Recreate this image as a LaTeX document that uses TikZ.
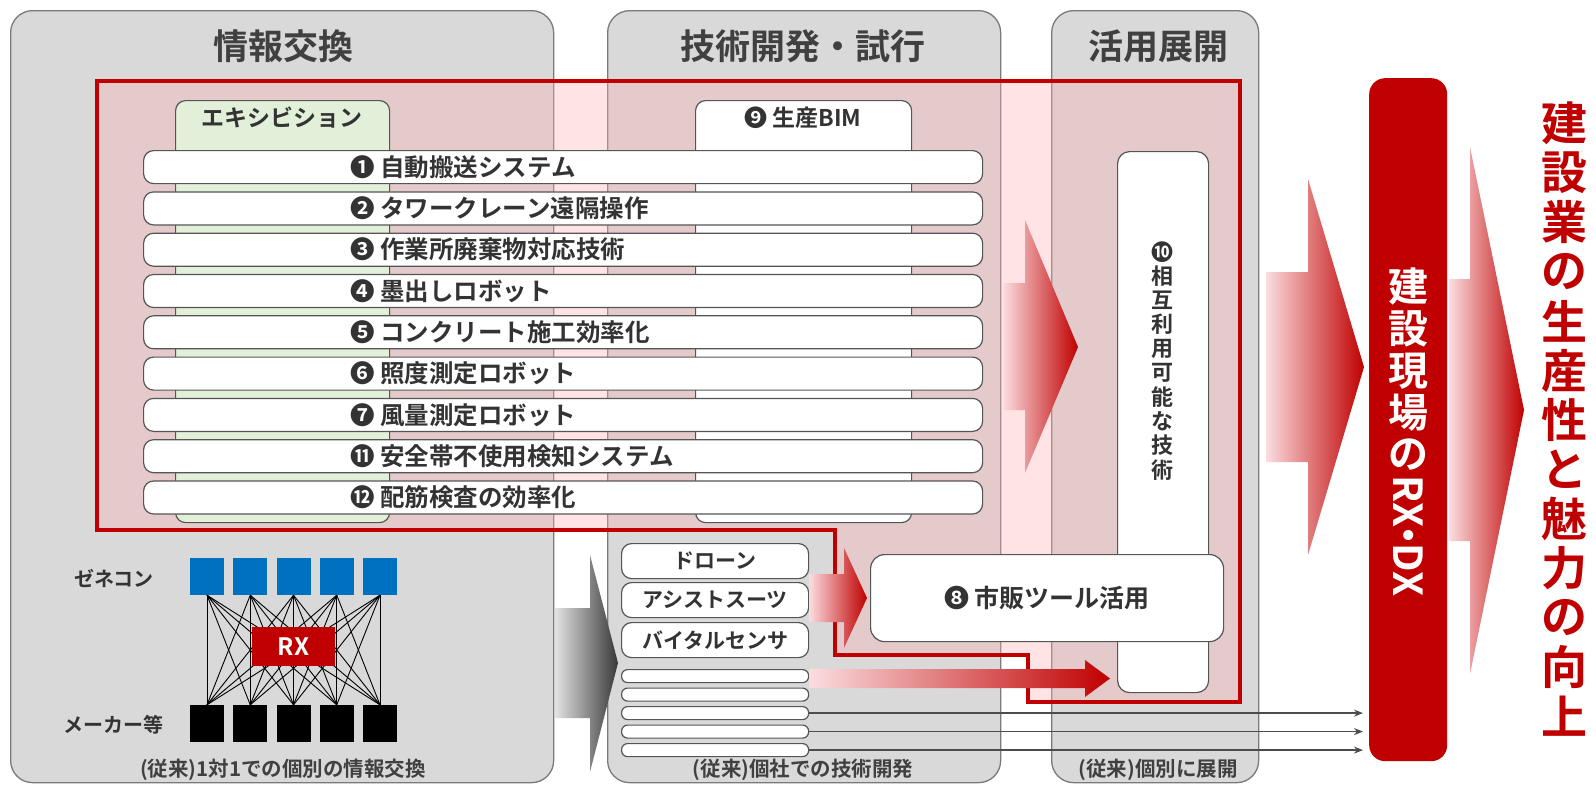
\documentclass[tikz,border=0pt]{standalone}
\usepackage{fontspec}
\setmainfont{Noto Sans CJK JP}[BoldFont={Noto Sans CJK JP Bold}]
\usetikzlibrary{arrows.meta}
\definecolor{pgrey}{HTML}{D9D9D9}
\definecolor{pborder}{HTML}{7A7A7A}
\definecolor{dred}{HTML}{C00000}
\definecolor{txt}{HTML}{333333}
\definecolor{ttl}{HTML}{404040}
\definecolor{gbox}{HTML}{E2F0D9}
\definecolor{blu}{HTML}{0070C0}
\definecolor{pinkf}{RGB}{255,175,181}
\definecolor{pk1}{HTML}{FBDDE0}
\newcommand\fsz[1]{\fontsize{#1}{#1}\selectfont}
\tikzset{
  panel/.style={draw=pborder, line width=1.3pt, fill=pgrey, rounded corners=22pt, anchor=north west, inner sep=0pt},
  wbox/.style={draw=pborder!70!black, line width=1.2pt, fill=white, rounded corners=10pt, anchor=north west, inner sep=0pt},
  ptitle/.style={font=\fsz{35}\bfseries, text=ttl, inner sep=0pt},
  bottomtxt/.style={font=\fsz{20.5}\bfseries, text=ttl, inner sep=0pt},
  bartext/.style={font=\fsz{24.5}\bfseries, text=txt, anchor=west, inner sep=0pt},
  smalltext/.style={font=\fsz{21}\bfseries, text=txt, inner sep=0pt},
  sq/.style={minimum width=34pt, minimum height=37pt, inner sep=0pt, draw=none},
  vchar/.style={font=\fsz{22}\bfseries, text=txt, inner sep=0pt},
  rxchar/.style={font=\fsz{40}\bfseries, text=white, inner sep=0pt},
  bigchar/.style={font=\fsz{46}\bfseries, text=dred, inner sep=0pt},
  thinarrow/.style={draw=black!70, line width=1.4pt, -{Stealth[length=9pt,width=7pt]}},
}
\begin{document}
\begin{tikzpicture}[x=1pt,y=-1pt]
\useasboundingbox (0,0) rectangle (1596,790);
\fill[white] (0,0) rectangle (1596,790);

% panels
\node[panel, minimum width=543pt, minimum height=772pt] (p1) at (10,10) {};
\node[panel, minimum width=393pt, minimum height=772pt] (p2) at (607,10) {};
\node[panel, minimum width=207pt, minimum height=772pt] (p3) at (1051,10) {};
\node[ptitle] (t1) at (283,46) {情報交換};
\node[ptitle] (t2) at (803,46) {技術開発・試行};
\node[ptitle] (t3) at (1158,46) {活用展開};
\node[bottomtxt] (b1) at (283,770) {(従来)1対1での個別の情報交換};
\node[bottomtxt] (b2) at (803,770) {(従来)個社での技術開発};
\node[bottomtxt] (b3) at (1158,770) {(従来)個別に展開};

% grey arrow
\shade[left color=gray!22, right color=black!78] (555,608) -- (590,608) -- (590,555) -- (618,663) -- (590,772) -- (590,718) -- (555,718) -- cycle;

% network
\foreach \i in {1,...,5} {
  \node[sq, fill=blu] (g\i) at ({207+43.25*(\i-1)}, 576.5) {};
  \node[sq, fill=black] (m\i) at ({207+43.25*(\i-1)}, 723.5) {};
}
\foreach \i in {1,...,5} \foreach \j in {1,...,5} \draw[line width=0.9pt] (g\i.south) -- (m\j.north);
\node[fill=dred, minimum width=83pt, minimum height=39pt, inner sep=0pt, text=white, font=\fsz{24}\bfseries] (rx) at (293.5,646.5) {RX};
\node[font=\fsz{20}\bfseries, text=txt, inner sep=0pt] (lg) at (114,578) {ゼネコン};
\node[font=\fsz{20}\bfseries, text=txt, inner sep=0pt] (lm) at (113,725) {メーカー等};

% red region
\fill[pinkf, fill opacity=0.34] (97,81) -- (1240,81) -- (1240,702) -- (1028,702) -- (1028,655) -- (835,655) -- (835,530) -- (97,530) -- cycle;
\draw[dred, line width=4pt, line join=miter] (97,81) -- (1240,81) -- (1240,702) -- (1028,702) -- (1028,655) -- (835,655) -- (835,530) -- (97,530) -- cycle;

% exhibition & BIM
\node[wbox, fill=gbox, minimum width=214pt, minimum height=422pt] (exh) at (175,100) {};
\node[smalltext, font=\fsz{23}\bfseries] (exht) at (282,118) {エキシビション};
\node[wbox, minimum width=216pt, minimum height=422pt] (bim) at (695,100) {};
\node[smalltext, font=\fsz{23}\bfseries] (bimt) at (803,118) {❾ 生産BIM};

% bars
\foreach \t [count=\i from 0] in {❶ 自動搬送システム,❷ タワークレーン遠隔操作,❸ 作業所廃棄物対応技術,❹ 墨出しロボット,❺ コンクリート施工効率化,❻ 照度測定ロボット,❼ 風量測定ロボット,⓫ 安全帯不使用検知システム,⓬ 配筋検査の効率化} {
  \node[wbox, minimum width=839pt, minimum height=33pt] (bar\i) at (143,{150+41.3*\i}) {};
  \node[bartext] (bt\i) at (350,{167+41.3*\i}) {\t};
}

% tall box 10
\node[wbox, rounded corners=12pt, minimum width=91pt, minimum height=541pt] (b10) at (1117,151) {};
\foreach \c [count=\i from 0] in {❿,相,互,利,用,可,能,な,技,術}
  \node[vchar] (v\i) at (1162,{252+24.2*\i}) {\c};

% box 8
\node[wbox, rounded corners=14pt, minimum width=353pt, minimum height=87pt] (b8) at (870,554) {};
\node[smalltext, font=\fsz{25}\bfseries] (b8t) at (1047,598) {❽ 市販ツール活用};

% small boxes
\node[wbox, minimum width=187pt, minimum height=35pt] (s1) at (621,543) {};
\node[smalltext] at (s1.center) {ドローン};
\node[wbox, minimum width=187pt, minimum height=35pt] (s2) at (621,582) {};
\node[smalltext] at (s2.center) {アシストスーツ};
\node[wbox, minimum width=187pt, minimum height=35pt] (s3) at (621,622) {};
\node[smalltext] at (s3.center) {バイタルセンサ};
\foreach \i in {1,...,5}
  \node[wbox, rounded corners=6pt, minimum width=187pt, minimum height=13pt] (tb\i) at (621,{669+18.5*(\i-1)}) {};

% pink arrows
\shade[left color=pk1, right color=dred] (1003,283) -- (1025,283) -- (1025,220) -- (1078,347) -- (1025,473) -- (1025,410) -- (1003,410) -- cycle;
\shade[left color=pk1, right color=dred] (809,574) -- (844,574) -- (844,548) -- (867,598) -- (844,648) -- (844,622) -- (809,622) -- cycle;
\shade[left color=pk1, right color=dred] (809,669) -- (1085,669) -- (1085,660) -- (1110,678.5) -- (1085,697) -- (1085,688) -- (809,688) -- cycle;

% RX DX bar
\node[fill=dred, rounded corners=16pt, minimum width=78pt, minimum height=683pt, inner sep=0pt, anchor=north west] (rxdx) at (1369,78) {};
\foreach \c [count=\i from 0] in {建,設,現,場,の}
  \node[rxchar] (r\i) at (1408,{287+42*\i}) {\c};
\node[rxchar, rotate=-90] (r5) at (1408,536) {RX\kern-0.3em・\kern-0.3em DX};

\shade[left color=pk1, right color=dred] (1266,272) -- (1308,272) -- (1308,179) -- (1364,367) -- (1308,555) -- (1308,462) -- (1266,462) -- cycle;
\shade[left color=pk1, right color=dred] (1449,279) -- (1470,279) -- (1470,147) -- (1524,410) -- (1470,674) -- (1470,541) -- (1449,541) -- cycle;

% thin arrows
\foreach \i in {3,4,5}
  \draw[thinarrow, shorten >=6pt] (tb\i.east) -- (tb\i.east -| rxdx.west);

% right text
\foreach \c [count=\i from 0] in {建,設,業,の,生,産,性,と,魅,力,の,向,上}
  \node[bigchar] (k\i) at (1564,{123.7+49.4*\i}) {\c};
\end{tikzpicture}
\end{document}
